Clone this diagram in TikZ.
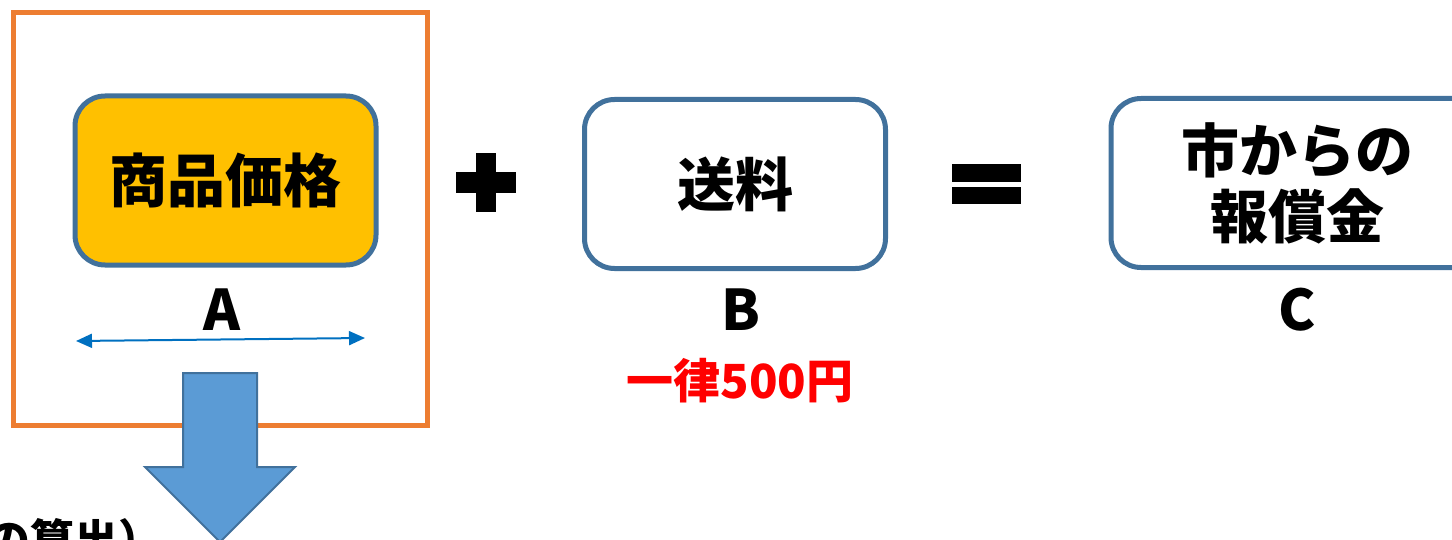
\documentclass[tikz,border=0pt]{standalone}
\usepackage{fontspec}
\setmainfont{Noto Sans CJK JP}
\usetikzlibrary{arrows.meta}
\definecolor{boxblue}{HTML}{41719C}
\definecolor{frameorange}{HTML}{ED7D31}
\definecolor{gold}{HTML}{FFC000}
\definecolor{arrowblue}{HTML}{5B9BD5}
\definecolor{lineblue}{HTML}{0070C0}
\tikzstyle{termbox} = [rectangle, rounded corners=15pt, minimum width=150.5pt, minimum height=84.5pt, text centered, align=center, draw=boxblue, line width=2.5pt, fill=white, font=\bfseries\fontsize{29}{33}\selectfont]
\tikzstyle{letter} = [font=\bfseries\fontsize{28}{33}\selectfont]
\tikzstyle{arrow} = [lineblue, line width=1pt, {Triangle[length=8pt,width=7pt]}-{Triangle[length=8pt,width=7pt]}]

\begin{document}
\begin{tikzpicture}[x=0.5pt, y=-0.5pt]
		\clip (0,0) rectangle (1452,540);
		% frame round A
		\draw [frameorange, line width=2.5pt] (13,13) rectangle (427,425);
		\node (price) [termbox, fill=gold] at (225.5,180.5) {商品価格};
		\node (shipping) [termbox] at (735,184) {送料};
		\node (reward) [termbox, minimum width=186pt] at (1297,183) {市からの\\報償金};
		\node (a) [letter] at (222,310) {A};
		\node (b) [letter] at (741,310) {B};
		\node (c) [letter] at (1297,310) {C};
		\node (flat) [font=\bfseries\fontsize{23.5}{28}\selectfont, text=red] at (740,381) {一律500円};
		\coordinate (wl) at (76,341);
		\coordinate (wr) at (365,338);
		\draw [arrow] (wl) -- (wr);
		% plus and equals
		\fill (456,172) rectangle (516,193);
		\fill (476,153) rectangle (496,212);
		\fill (952,164) rectangle (1021,182);
		\fill (952,187) rectangle (1021,204);
		% down arrow
		\draw [fill=arrowblue, draw=boxblue, line width=1pt] (183,373) -- (257,373) -- (257,467) -- (295,467) -- (220,542) -- (145,467) -- (183,467) -- cycle;
		\node (calc) [anchor=base east, font=\bfseries\fontsize{22}{26}\selectfont] at (170,556) {（商品価格Aの算出）};
	\end{tikzpicture}
\end{document}
